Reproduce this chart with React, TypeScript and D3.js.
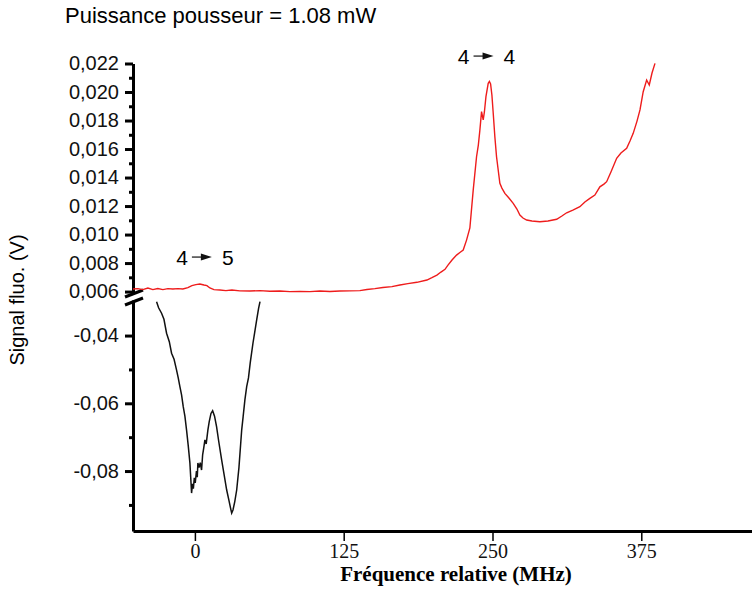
import React, { useEffect, useRef } from "react";
import * as d3 from "d3";

// red trace (upper panel) : relative frequency in MHz / fluorescence signal in V
const redFreq = [
  -52.1, -47.9, -43.7, -39.5, -35.3, -31.1, -26.9, -22.7, -18.5, -14.3, -10.1, -5.9, -2.5, 0.8, 4.2, 7.6,
  10.1, 12.6, 16.0, 21.0, 26.0, 31.1, 37.8, 46.2, 54.6, 63.0, 71.4, 79.8, 88.2, 96.6, 105.0, 113.4,
  121.8, 130.2, 138.6, 144.5, 151.2, 157.9, 165.5, 172.2, 178.9, 186.5, 194.9, 199.1, 203.3, 206.7,
  210.1, 212.6, 216.0, 219.8, 222.6, 225.4, 228.2, 231.0, 233.8, 236.6, 238.1, 239.4, 240.8, 242.2,
  243.2, 244.5, 246.4, 247.4, 248.4, 249.5, 250.6, 252.0, 253.4, 255.0, 256.2, 257.9, 260.4, 263.8,
  267.4, 270.5, 273.0, 275.6, 278.7, 283.1, 289.8, 296.6, 303.9, 308.3, 312.3, 317.5, 323.4, 327.6,
  331.8, 336.0, 340.2, 343.6, 345.9, 349.5, 354.3, 357.9, 362.7, 365.5, 368.2, 371.4, 373.9, 376.6,
  379.5, 381.7, 384.0, 386.5,
];
const redSignal = [
  0.00618, 0.00621, 0.00614, 0.00625, 0.00614, 0.00621, 0.00614, 0.00621, 0.00618, 0.00621, 0.00618, 0.00628,
  0.00642, 0.00649, 0.00653, 0.00646, 0.00642, 0.00625, 0.00614, 0.00611, 0.00607, 0.00611, 0.00605, 0.00604,
  0.00607, 0.00602, 0.00604, 0.006, 0.00601, 0.006, 0.00604, 0.00601, 0.00604, 0.00605, 0.00607, 0.00615,
  0.00621, 0.00629, 0.00635, 0.00646, 0.00656, 0.00665, 0.00681, 0.00698, 0.00716, 0.00737, 0.00756, 0.00786,
  0.00821, 0.00856, 0.00874, 0.00891, 0.00961, 0.01046, 0.01312, 0.01546, 0.01628, 0.01733, 0.01862, 0.01804,
  0.0186, 0.01967, 0.02061, 0.02074, 0.02056, 0.01979, 0.01853, 0.01684, 0.01546, 0.01439, 0.01359, 0.01326,
  0.01289, 0.01256, 0.01219, 0.01179, 0.01137, 0.01116, 0.01102, 0.01095, 0.0109, 0.01095, 0.01107, 0.0113,
  0.01153, 0.01172, 0.01195, 0.01228, 0.01254, 0.01277, 0.01335, 0.01354, 0.01371, 0.01439, 0.01535, 0.01572,
  0.01605, 0.01656, 0.0171, 0.01796, 0.01874, 0.02002, 0.02084, 0.02049, 0.02133, 0.02201,
];

// black trace (lower panel)
const blackFreq = [
  -32.2, -30.5, -28.0, -26.0, -23.8, -21.5, -19.6, -17.5, -15.4, -14.0, -12.6, -11.2, -9.8, -8.4, -7.0, -5.6,
  -4.2, -3.5, -2.8, -2.0, -1.3, -0.5, 0.3, 1.3, 2.0, 2.5, 3.5, 4.5, 5.6, 6.5, 7.5, 8.4, 9.5, 10.9, 12.0,
  13.5, 14.9, 16.5, 18.2, 20.0, 22.5, 24.5, 26.7, 28.5, 30.0, 30.9, 32.0, 33.5, 35.1, 37.0, 39.3, 40.5,
  42.0, 43.5, 45.0, 46.5, 48.8, 50.5, 51.9, 53.5, 54.7,
];
const blackSignal = [
  -0.03, -0.0318, -0.0334, -0.0352, -0.0393, -0.0418, -0.0452, -0.047, -0.0502, -0.0525, -0.0551, -0.0575,
  -0.061, -0.0638, -0.0679, -0.0725, -0.0776, -0.082, -0.0865, -0.0838, -0.0852, -0.082, -0.0835, -0.08,
  -0.0818, -0.0776, -0.079, -0.0775, -0.0797, -0.0752, -0.073, -0.0708, -0.072, -0.0679, -0.0655, -0.063,
  -0.0622, -0.0638, -0.0669, -0.0712, -0.0768, -0.081, -0.0856, -0.0885, -0.091, -0.0924, -0.0915, -0.089,
  -0.0856, -0.079, -0.0679, -0.064, -0.059, -0.0551, -0.0525, -0.048, -0.0422, -0.0385, -0.0354, -0.032,
  -0.03,
];

const upperTicks = [0.006, 0.008, 0.01, 0.012, 0.014, 0.016, 0.018, 0.02, 0.022];
const upperMinor = [0.007, 0.009, 0.011, 0.013, 0.015, 0.017, 0.019, 0.021];
const lowerTicks = [-0.04, -0.06, -0.08];
const lowerMinor = [-0.05, -0.07, -0.09];
const xTicks = [0, 125, 250, 375];

// hyperfine transition labels: from, to, position (MHz, V)
const transFrom = ["4", "4"];
const transTo = ["5", "4"];
const transFreq = [8.4, 245];
const transLevel = [0.00786, 0.02196];

const W = 752;
const H = 594;
const sans = "'Liberation Sans', Arial, sans-serif";
const serif = "'Liberation Serif', 'Times New Roman', serif";

const comma = (v: number, digits: number) => v.toFixed(digits).replace(".", ",");

const App = () => {
  const ref = useRef<SVGSVGElement>(null);

  useEffect(() => {
    const svg = d3.select(ref.current);
    svg.selectAll("*").remove();

    const x = d3.scaleLinear().domain([-52, 468]).range([133, 752]);
    const yTop = d3.scaleLinear().domain([0.0059, 0.022]).range([293, 63.5]);
    const yBot = d3.scaleLinear().domain([-0.0977, -0.0295]).range([531, 300]);

    svg.append("text")
      .attr("x", 65).attr("y", 23)
      .attr("font-family", sans).attr("font-size", 22)
      .text("Puissance pousseur = 1.08 mW");

    // upper y axis
    const gTop = svg.append("g").attr("transform", "translate(133,0)")
      .call(d3.axisLeft(yTop).tickValues(upperTicks).tickSize(8).tickSizeOuter(0).tickPadding(6)
        .tickFormat(d => comma(+d, 3)));
    gTop.select(".domain").attr("stroke-width", 3);
    gTop.selectAll(".tick line").attr("stroke-width", 3);
    gTop.selectAll("text").attr("font-family", sans).attr("font-size", 20).attr("fill", "#111");

    const gTopMinor = svg.append("g").attr("transform", "translate(133,0)")
      .call(d3.axisLeft(yTop).tickValues(upperMinor).tickSize(4).tickFormat(() => ""));
    gTopMinor.select(".domain").remove();
    gTopMinor.selectAll(".tick line").attr("stroke-width", 3);

    // lower y axis
    const gBot = svg.append("g").attr("transform", "translate(133,0)")
      .call(d3.axisLeft(yBot).tickValues(lowerTicks).tickSize(8).tickSizeOuter(0).tickPadding(6)
        .tickFormat(d => comma(+d, 2)));
    gBot.select(".domain").attr("stroke-width", 3);
    gBot.selectAll(".tick line").attr("stroke-width", 3);
    gBot.selectAll("text").attr("font-family", sans).attr("font-size", 20).attr("fill", "#111");

    const gBotMinor = svg.append("g").attr("transform", "translate(133,0)")
      .call(d3.axisLeft(yBot).tickValues(lowerMinor).tickSize(4).tickFormat(() => ""));
    gBotMinor.select(".domain").remove();
    gBotMinor.selectAll(".tick line").attr("stroke-width", 3);

    // axis break marks
    const bTop = yTop.range()[0];
    const bBot = yBot.range()[1];
    [bTop + 1, bBot + 2].forEach(yb => {
      svg.append("line")
        .attr("x1", 125).attr("y1", yb + 3)
        .attr("x2", 143).attr("y2", yb - 4)
        .attr("stroke", "#000").attr("stroke-width", 3);
    });

    // x axis
    const gX = svg.append("g").attr("transform", "translate(0,531)")
      .call(d3.axisBottom(x).tickValues(xTicks).tickSize(10).tickSizeOuter(0).tickPadding(3));
    gX.select(".domain").attr("stroke-width", 3);
    gX.selectAll(".tick line").attr("stroke-width", 1.5);
    gX.selectAll("text").attr("font-family", serif).attr("font-size", 20).attr("fill", "#111");

    svg.append("text")
      .attr("x", 456).attr("y", 581)
      .attr("text-anchor", "middle")
      .attr("font-family", serif).attr("font-size", 21).attr("font-weight", "bold")
      .text("Fréquence relative (MHz)");

    svg.append("text")
      .attr("transform", "translate(24,300) rotate(-90)")
      .attr("text-anchor", "middle")
      .attr("font-family", sans).attr("font-size", 20)
      .text("Signal fluo. (V)");

    // traces
    const red = redFreq.map((f, i) => [f, redSignal[i]] as [number, number]);
    const black = blackFreq.map((f, i) => [f, blackSignal[i]] as [number, number]);

    svg.append("path")
      .datum(red)
      .attr("fill", "none").attr("stroke", "#ee1c1c").attr("stroke-width", 1.4)
      .attr("d", d3.line<[number, number]>().x(d => x(d[0])).y(d => yTop(d[1])));

    svg.append("path")
      .datum(black)
      .attr("fill", "none").attr("stroke", "#111").attr("stroke-width", 1.5)
      .attr("d", d3.line<[number, number]>().x(d => x(d[0])).y(d => yBot(d[1])));

    // transition labels
    transFrom.forEach((from, i) => {
      const g = svg.append("g")
        .attr("transform", `translate(${x(transFreq[i])},${yTop(transLevel[i])})`);
      g.append("text").attr("x", -17).attr("text-anchor", "end")
        .attr("font-family", sans).attr("font-size", 21).text(from);
      g.append("line").attr("x1", -13).attr("x2", -3).attr("y1", -8).attr("y2", -8)
        .attr("stroke", "#111").attr("stroke-width", 1.2);
      g.append("path").attr("d", "M-4,-11.5L7,-8L-4,-4.5Z").attr("fill", "#111");
      g.append("text").attr("x", 17)
        .attr("font-family", sans).attr("font-size", 21).text(transTo[i]);
    });
  }, []);

  return (
    <svg ref={ref} width={W} height={H}
      style={{ position: "absolute", left: 0, top: 0, background: "#fff" }} />
  );
};

export default App;
